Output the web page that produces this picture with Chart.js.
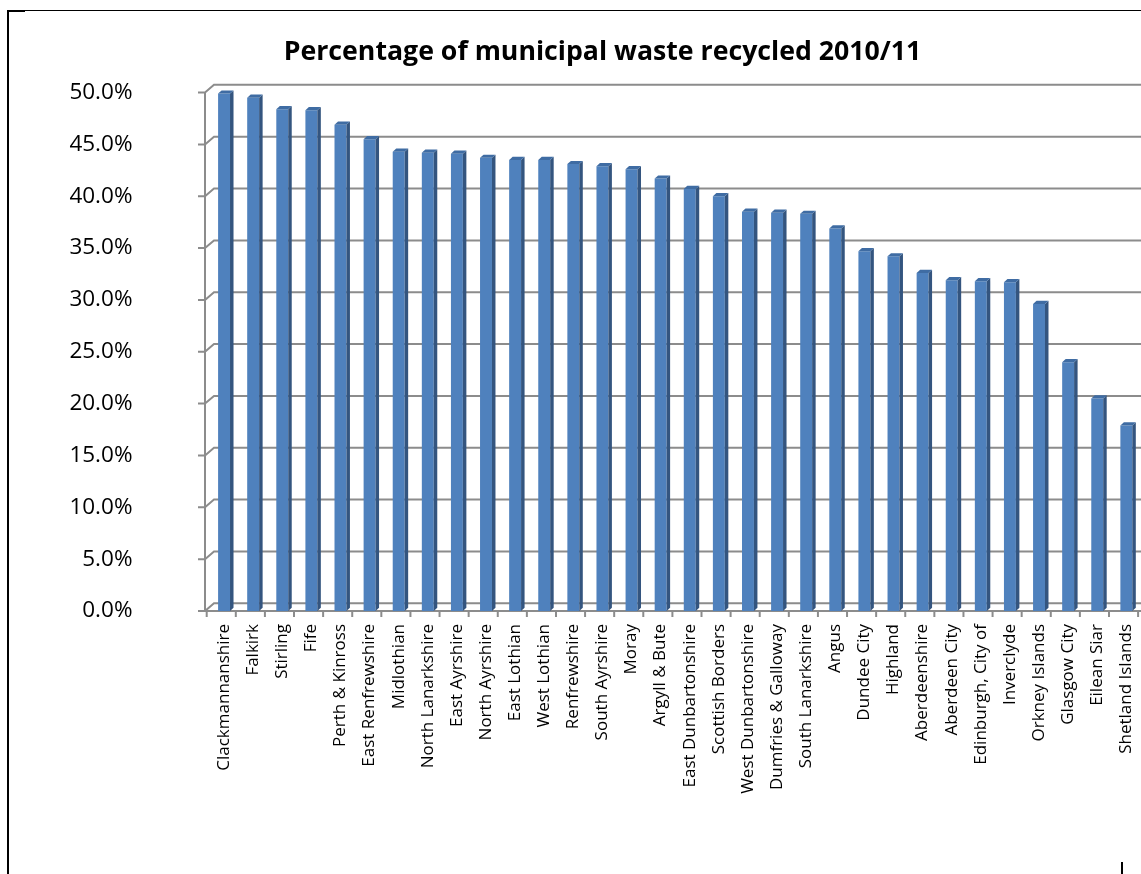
<!DOCTYPE html>
<html>
<head>
<meta charset="utf-8">
<script src="https://cdn.jsdelivr.net/npm/chart.js@4/dist/chart.umd.min.js"></script>
<style>
  html, body { margin: 0; padding: 0; background: #fff; overflow: hidden; }
  #wrap { position: relative; width: 1141px; height: 874px; overflow: hidden; }
  #box { position: absolute; left: 0; top: 0; width: 1160px; height: 874px; }
  #frameTop { position: absolute; left: 7px; top: 10px; width: 1134px; height: 1px; background: #000; }
  #frameTopThick { position: absolute; left: 7px; top: 10px; width: 18px; height: 2px; background: #000; }
  #frameLeft { position: absolute; left: 7px; top: 10px; width: 2px; height: 864px; background: #000; }
  #markBR { position: absolute; left: 1121px; top: 862px; width: 2px; height: 12px; background: #000; }
</style>
</head>
<body>
<div id="wrap">
  <div id="box"><canvas id="c" width="1160" height="874"></canvas></div>
  <div id="frameTop"></div>
  <div id="frameTopThick"></div>
  <div id="frameLeft"></div>
  <div id="markBR"></div>
</div>
<script>
const chartTitle = "Percentage of municipal waste recycled 2010/11";

const councils = [
  "Clackmannanshire", "Falkirk", "Stirling", "Fife", "Perth & Kinross",
  "East Renfrewshire", "Midlothian", "North Lanarkshire", "East Ayrshire",
  "North Ayrshire", "East Lothian", "West Lothian", "Renfrewshire",
  "South Ayrshire", "Moray", "Argyll & Bute", "East Dunbartonshire",
  "Scottish Borders", "West Dunbartonshire", "Dumfries & Galloway",
  "South Lanarkshire", "Angus", "Dundee City", "Highland", "Aberdeenshire",
  "Aberdeen City", "Edinburgh, City of", "Inverclyde", "Orkney Islands",
  "Glasgow City", "Eilean Siar", "Shetland Islands"
];

const recycledPct = [
  49.9, 49.5, 48.4, 48.3, 46.9,
  45.5, 44.3, 44.2, 44.1,
  43.7, 43.5, 43.5, 43.1,
  42.9, 42.6, 41.7, 40.7,
  40.0, 38.5, 38.4,
  38.3, 36.9, 34.7, 34.2, 32.6,
  31.9, 31.8, 31.7, 29.6,
  24.0, 20.5, 17.9
];

const yTickMin = 0;
const yTickMax = 50;
const yTickStep = 5;

// 3D look parameters
const WALL_DX = 9, WALL_DY = 7.7;   // back wall offset
const BAR_DX = 3.5, BAR_DY = 3.2;   // bar depth
const AXIS_SHIFT = 4.5;             // front axis left of chart area

const threeD = {
  id: 'threeD',
  beforeDatasetsDraw(chart) {
    const ctx = chart.ctx;
    const ys = chart.scales.y, xs = chart.scales.x;
    const area = chart.chartArea;
    const ax = area.left - AXIS_SHIFT;
    const right = chart.width;
    const y0 = ys.getPixelForValue(0);
    ctx.save();
    ctx.strokeStyle = '#8c8c8c';
    ctx.lineWidth = 2;
    for (let v = yTickMin; v <= yTickMax; v += yTickStep) {
      const yf = ys.getPixelForValue(v);
      const yb = yf - WALL_DY;
      ctx.beginPath();
      ctx.moveTo(ax - 7, yf);
      ctx.lineTo(ax, yf);
      ctx.lineTo(ax + WALL_DX, yb);
      ctx.lineTo(right, yb);
      ctx.stroke();
    }
    ctx.beginPath();
    ctx.moveTo(ax, ys.getPixelForValue(yTickMax));
    ctx.lineTo(ax, y0);
    ctx.stroke();
    ctx.beginPath();
    ctx.moveTo(ax, y0);
    ctx.lineTo(right, y0);
    ctx.stroke();
    const half = (xs.getPixelForValue(1) - xs.getPixelForValue(0)) / 2;
    for (let i = 0; i <= councils.length; i++) {
      const xb = xs.getPixelForValue(0) - half + i * half * 2 - (AXIS_SHIFT - 1.7);
      ctx.beginPath();
      ctx.moveTo(xb, y0);
      ctx.lineTo(xb, y0 + 6);
      ctx.stroke();
    }
    ctx.restore();
  },
  afterDatasetsDraw(chart) {
    const ctx = chart.ctx;
    const meta = chart.getDatasetMeta(0);
    ctx.save();
    meta.data.forEach(el => {
      const p = el.getProps(['x', 'y', 'base', 'width'], true);
      const l = p.x - p.width / 2, r = p.x + p.width / 2;
      ctx.fillStyle = '#34557f';
      ctx.beginPath();
      ctx.moveTo(r, p.y);
      ctx.lineTo(r + BAR_DX, p.y - BAR_DY);
      ctx.lineTo(r + BAR_DX, p.base - BAR_DY);
      ctx.lineTo(r, p.base);
      ctx.closePath();
      ctx.fill();
      ctx.fillStyle = '#3f6ca3';
      ctx.beginPath();
      ctx.moveTo(l, p.y);
      ctx.lineTo(l + BAR_DX, p.y - BAR_DY);
      ctx.lineTo(r + BAR_DX, p.y - BAR_DY);
      ctx.lineTo(r, p.y);
      ctx.closePath();
      ctx.fill();
    });
    ctx.restore();
  }
};

function draw() {
  new Chart(document.getElementById('c'), {
    type: 'bar',
    data: {
      labels: councils,
      datasets: [{
        label: chartTitle,
        data: recycledPct,
        backgroundColor: '#4f81bd',
        borderWidth: 0,
        categoryPercentage: 1.0,
        barPercentage: 0.41
      }]
    },
    plugins: [threeD],
    options: {
      responsive: false,
      animation: false,
      layout: { padding: { left: 61.5, right: 16.4, top: 0, bottom: 0 } },
      plugins: {
        legend: { display: false },
        tooltip: { enabled: false },
        title: {
          display: true,
          text: chartTitle,
          color: '#000',
          font: { family: 'Open Sans', size: 26.7, weight: 'bold' },
          padding: { top: 36.5, bottom: 24 }
        }
      },
      scales: {
        x: {
          grid: { display: false, drawTicks: false },
          border: { display: false },
          ticks: {
            color: '#000',
            font: { family: 'Open Sans', size: 17 },
            minRotation: 90,
            maxRotation: 90,
            autoSkip: false,
            padding: 13
          },
          afterFit(scale) { scale.height = 874 - 611; }
        },
        y: {
          min: yTickMin,
          max: yTickMax,
          grid: { display: false, drawTicks: false },
          border: { display: false },
          ticks: {
            stepSize: yTickStep,
            color: '#000',
            font: { family: 'Open Sans', size: 22.5 },
            padding: 77,
            callback: v => v.toFixed(1) + '%'
          },
          afterFit(scale) { scale.width = 148; }
        }
      }
    }
  });
}

Promise.all([
  document.fonts.load('bold 26.7px "Open Sans"'),
  document.fonts.load('17px "Open Sans"'),
  document.fonts.load('22.5px "Open Sans"')
]).then(draw, draw);
</script>
</body>
</html>
